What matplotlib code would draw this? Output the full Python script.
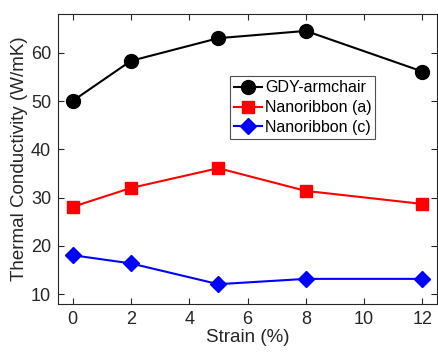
import matplotlib
matplotlib.use('Agg')
from matplotlib import pyplot as plt
import matplotlib as mpl

mpl.rc('font', family='Liberation Sans')

strain = [0, 2, 5, 8, 12]
gdy_armchair = [50.0, 58.3, 63.0, 64.5, 56.1]
nanoribbon_a = [28.1, 32.0, 36.1, 31.4, 28.7]
nanoribbon_c = [18.1, 16.4, 12.1, 13.2, 13.2]

fig = plt.figure(figsize=(4.38, 3.52), dpi=100)
ax = fig.add_axes([58 / 438, (352 - 304) / 352, (437 - 58) / 438, (304 - 14) / 352])

ax.plot(strain, gdy_armchair, color='black', marker='o', markersize=10, lw=1.5, label='GDY-armchair')
ax.plot(strain, nanoribbon_a, color='red', marker='s', markersize=8, lw=1.5, label='Nanoribbon (a)')
ax.plot(strain, nanoribbon_c, color='blue', marker='D', markersize=8.5, lw=1.5, label='Nanoribbon (c)')

ax.set_xlim(-0.5, 12.5)
ax.set_ylim(8, 68)
ax.set_xticks([0, 2, 4, 6, 8, 10, 12])
ax.set_yticks([10, 20, 30, 40, 50, 60])
ax.tick_params(direction='in', top=True, right=True, labelsize=13, colors='#262626',
               length=4, pad=5)
for s in ax.spines.values():
    s.set_color('#262626')
    s.set_linewidth(0.8)

ax.set_xlabel('Strain (%)', fontsize=13.5, color='#262626', labelpad=1)
ax.set_ylabel('Thermal Conductivity (W/mK)', fontsize=13.5, color='#262626', labelpad=2)

leg = ax.legend(loc='upper left', bbox_to_anchor=(0.455, 0.785), fontsize=11.5, frameon=True,
                fancybox=False, edgecolor='#262626', handlelength=1.7, handletextpad=0.2,
                borderpad=0.25, labelspacing=0.3, borderaxespad=0)
leg.get_frame().set_linewidth(0.8)

fig.savefig('out.png', dpi=100)
